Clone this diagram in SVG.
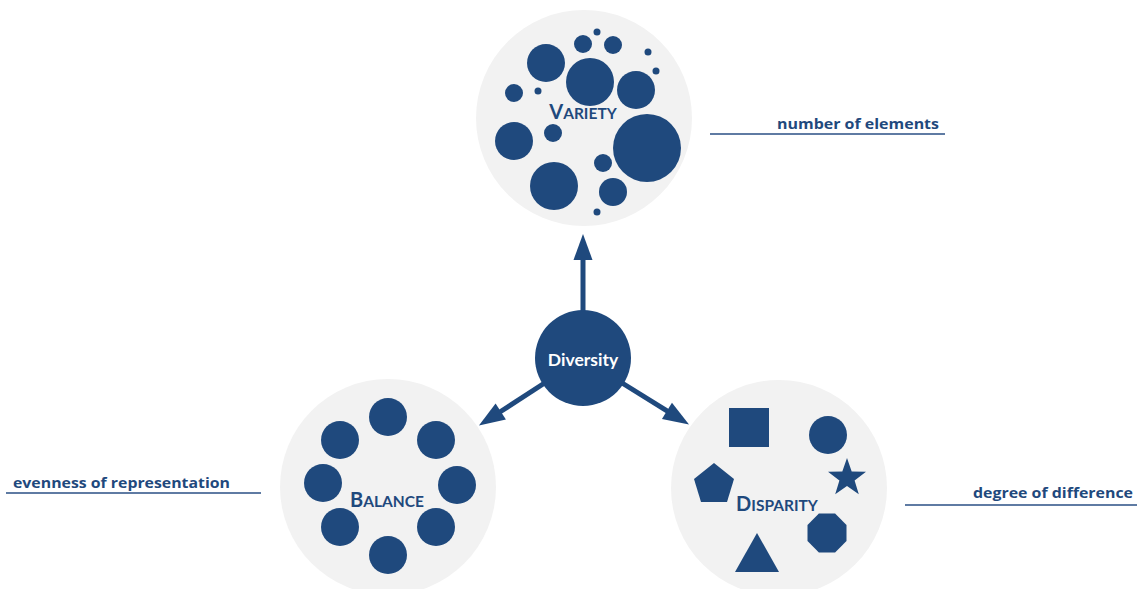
<svg xmlns="http://www.w3.org/2000/svg" width="1138" height="589" viewBox="0 0 1138 589">
<style>
.bg{fill:#f2f2f2}
.blue{fill:#1F497D}
.cap{font-family:Lato,"Liberation Sans",sans-serif;font-weight:bold;fill:#1F497D;text-anchor:middle}
.big{font-size:20px}
.sm{font-size:15.5px}
.lbl{font-family:"Open Sans","Liberation Sans",sans-serif;font-weight:bold;font-size:15px;fill:#1F497D}
.ul{stroke:#2a4f85;stroke-width:1.6;fill:none}
.shaft{stroke:#1F497D;stroke-width:5;fill:none}
</style>
<defs>
<marker id="ah" markerUnits="userSpaceOnUse" markerWidth="30" markerHeight="22" viewBox="-1 -11 30 22" refX="1" refY="0" orient="auto">
<path d="M0,-9.5 L26,0 L0,9.5 z" fill="#1F497D"/>
</marker>
</defs>
<rect width="1138" height="589" fill="#ffffff"/>

<g id="variety">
<circle class="bg" cx="584" cy="118" r="108"/>
<g class="blue">
<circle cx="546" cy="63" r="19"/>
<circle cx="583" cy="44" r="9"/>
<circle cx="613" cy="45" r="9"/>
<circle cx="597" cy="32" r="3.5"/>
<circle cx="648" cy="52" r="3.5"/>
<circle cx="656" cy="71" r="3.5"/>
<circle cx="590" cy="82" r="24"/>
<circle cx="636" cy="90" r="19"/>
<circle cx="514" cy="93" r="9"/>
<circle cx="538" cy="91" r="3.5"/>
<circle cx="514" cy="141" r="19"/>
<circle cx="553" cy="133" r="9"/>
<circle cx="647" cy="148" r="34"/>
<circle cx="603" cy="163" r="9"/>
<circle cx="554" cy="186" r="24"/>
<circle cx="613" cy="192" r="14"/>
<circle cx="597" cy="212" r="3.5"/>
</g>
<text class="cap" x="583" y="119"><tspan class="big">V</tspan><tspan class="sm">ARIETY</tspan></text>
</g>

<g id="balance">
<circle class="bg" cx="388" cy="487" r="108"/>
<g class="blue">
<circle cx="388" cy="417" r="19"/>
<circle cx="340" cy="440" r="19"/>
<circle cx="436" cy="440" r="19"/>
<circle cx="323" cy="483" r="19"/>
<circle cx="457" cy="485" r="19"/>
<circle cx="340" cy="527" r="19"/>
<circle cx="436" cy="527" r="19"/>
<circle cx="388" cy="555" r="19"/>
</g>
<text class="cap" x="387" y="507"><tspan class="big">B</tspan><tspan class="sm">ALANCE</tspan></text>
</g>

<g id="disparity">
<circle class="bg" cx="779" cy="488" r="108"/>
<g class="blue">
<rect x="729" y="408" width="40" height="39"/>
<circle cx="828" cy="435" r="19"/>
<polygon points="847,458 851.7,471.5 866,471.8 854.6,480.5 858.8,494.2 847,486 835.2,494.2 839.4,480.5 828,471.8 842.3,471.5"/>
<polygon points="714,463 734,479 727,502 701,502 694,479"/>
<polygon points="835.1,513.5 846.5,524.9 846.5,541.1 835.1,552.5 818.9,552.5 807.5,541.1 807.5,524.9 818.9,513.5"/>
<polygon points="757,533 779,572 735,572"/>
</g>
<text class="cap" x="777" y="511"><tspan class="big">D</tspan><tspan class="sm">ISPARITY</tspan></text>
</g>

<g id="connectors">
<line class="shaft" x1="583" y1="330" x2="583" y2="259" marker-end="url(#ah)"/>
<line class="shaft" x1="560" y1="373" x2="499.9" y2="412" marker-end="url(#ah)"/>
<line class="shaft" x1="606" y1="373" x2="667.8" y2="411.4" marker-end="url(#ah)"/>
</g>

<g id="diversity">
<circle class="blue" cx="583" cy="358" r="48"/>
<text x="583" y="366" text-anchor="middle" font-family="Lato,'Liberation Sans',sans-serif" font-weight="bold" font-size="17.5" fill="#ffffff">Diversity</text>
</g>

<g id="label-variety">
<line class="ul" x1="710" y1="134" x2="945" y2="134"/>
<text class="lbl" x="777" y="129" textLength="162" lengthAdjust="spacingAndGlyphs">number of elements</text>
</g>
<g id="label-balance">
<line class="ul" x1="6" y1="493" x2="261" y2="493"/>
<text class="lbl" x="13" y="488" textLength="217" lengthAdjust="spacingAndGlyphs">evenness of representation</text>
</g>
<g id="label-disparity">
<line class="ul" x1="905" y1="505" x2="1137" y2="505"/>
<text class="lbl" x="973" y="498" textLength="160" lengthAdjust="spacingAndGlyphs">degree of difference</text>
</g>
</svg>
